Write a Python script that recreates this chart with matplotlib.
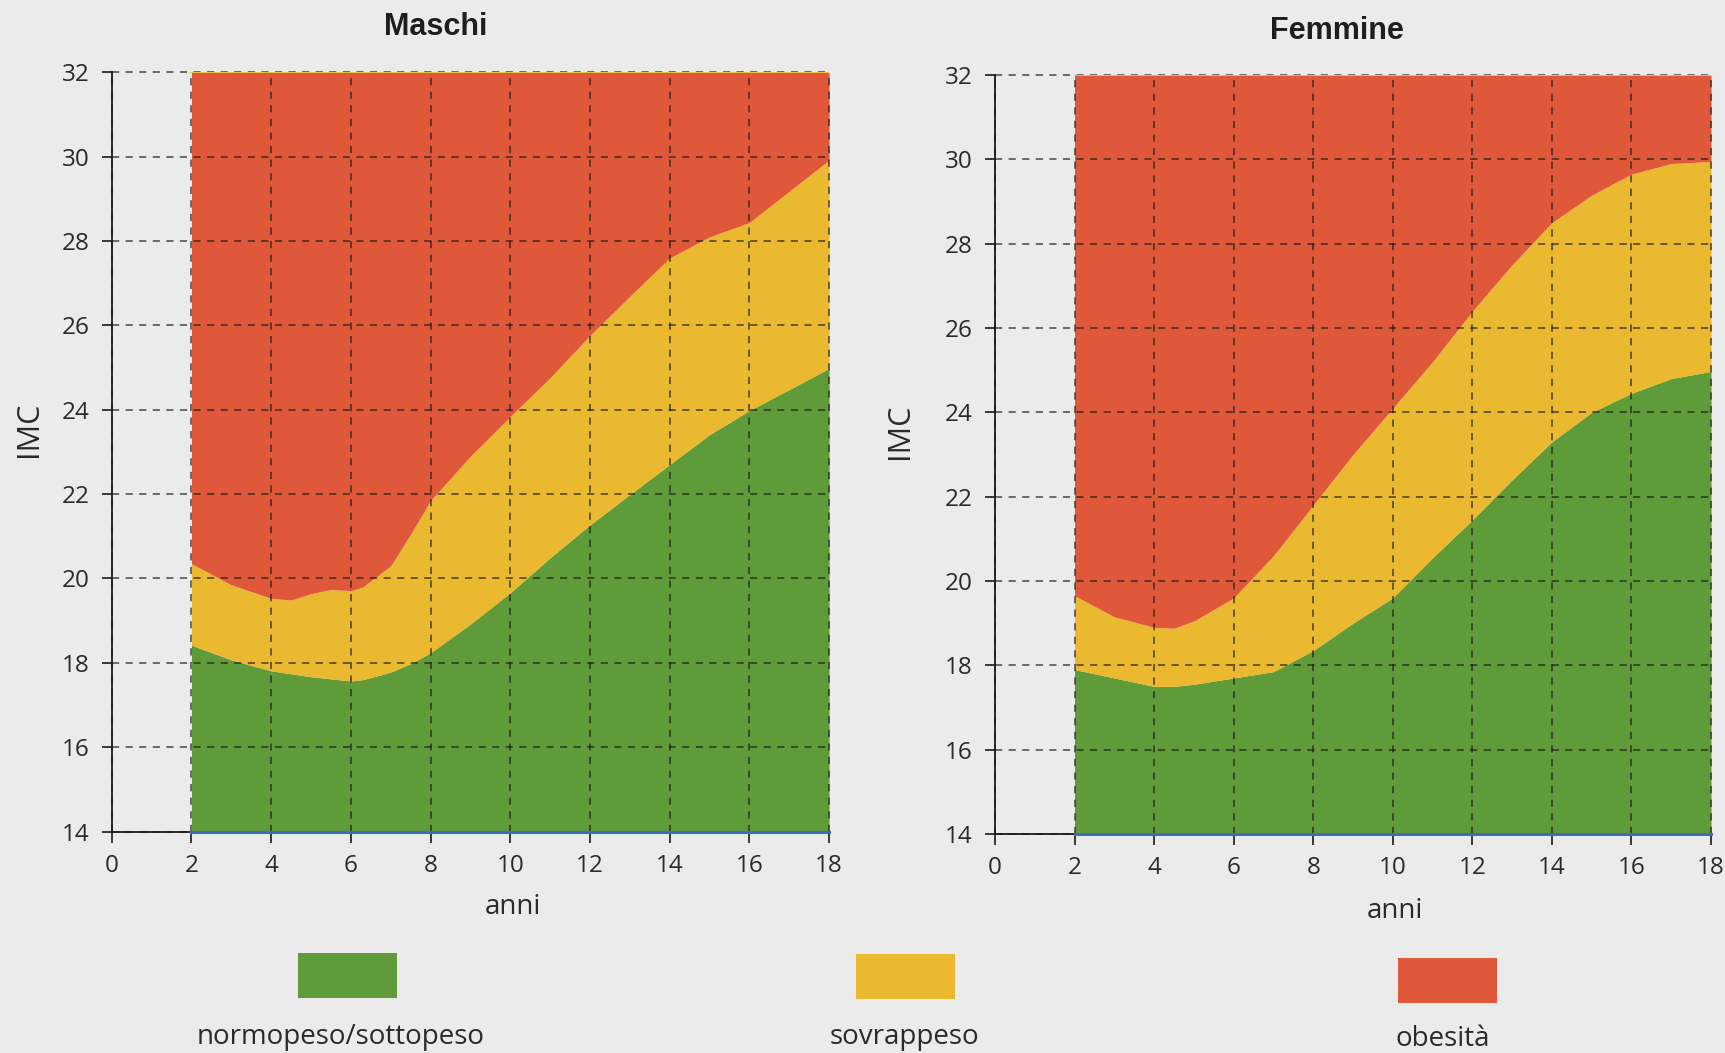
import matplotlib
matplotlib.use("Agg")
import matplotlib.pyplot as plt
from matplotlib.patches import Rectangle

# Età (anni) e limiti IMC
anni_m = [2, 3, 4, 4.5, 5, 5.5, 6, 6.3, 7, 7.5, 8, 9, 10, 11, 12, 13, 14, 15, 16, 17, 18]
normo_m = [18.42, 18.07, 17.81, 17.74, 17.67, 17.62, 17.57, 17.6, 17.78, 17.98, 18.24, 18.92, 19.66, 20.49, 21.27, 21.99, 22.7, 23.41, 23.98, 24.48, 24.98]
sovra_m = [20.35, 19.85, 19.53, 19.49, 19.64, 19.74, 19.71, 19.8, 20.3, 21.05, 21.85, 22.9, 23.84, 24.76, 25.76, 26.69, 27.6, 28.1, 28.44, 29.18, 29.92]

anni_f = [2, 3, 4, 4.5, 5, 6, 7, 8, 9, 10, 11, 12, 13, 14, 15, 16, 17, 18]
normo_f = [17.9, 17.7, 17.5, 17.5, 17.55, 17.7, 17.85, 18.35, 19.0, 19.6, 20.55, 21.45, 22.4, 23.3, 24.0, 24.45, 24.8, 24.97]
sovra_f = [19.65, 19.15, 18.9, 18.88, 19.05, 19.6, 20.6, 21.8, 23.0, 24.1, 25.2, 26.4, 27.5, 28.5, 29.15, 29.65, 29.9, 29.95]

xticks = list(range(0, 19, 2))
yticks = list(range(14, 33, 2))
categorie = ["normopeso/sottopeso", "sovrappeso", "obesità"]
colori = ["#5f9b38", "#ebb930", "#e0583a"]

sfondo = "#ebebeb"
testo = "#2a2a2a"
font_num = ["Open Sans", "DejaVu Sans"]
font_tit = ["Liberation Sans", "DejaVu Sans"]

fig = plt.figure(figsize=(17.25, 10.53), dpi=100, facecolor=sfondo)


def pannello(pos, anni, normo, sovra, pos_anni, pos_imc):
    ax = fig.add_axes(pos)
    ax.set_facecolor("none")
    ax.fill_between(anni, yticks[0], normo, color=colori[0], lw=0)
    ax.fill_between(anni, normo, sovra, color=colori[1], lw=0)
    ax.fill_between(anni, sovra, yticks[-1], color=colori[2], lw=0)
    # linee sottili ai bordi delle aree, come nella stampa
    ax.plot([anni[0], anni[-1]], [yticks[0], yticks[0]], color="#3a6fc0", lw=2.2,
            zorder=5, clip_on=False)
    ax.plot([anni[0], anni[-1]], [yticks[-1], yticks[-1]], color="#e8c640", lw=1.4, zorder=3)

    ax.set_xlim(xticks[0], xticks[-1])
    ax.set_ylim(yticks[0], yticks[-1])
    ax.set_xticks(xticks)
    ax.set_yticks(yticks)
    ax.grid(True, ls=(0, (4.5, 4)), color="#1a1a1a", lw=1.15, alpha=0.75)
    ax.set_axisbelow(False)
    for s in ["top", "right"]:
        ax.spines[s].set_visible(False)
    for s in ["left", "bottom"]:
        ax.spines[s].set_linewidth(1.3)
        ax.spines[s].set_color("#1a1a1a")
        ax.spines[s].set_zorder(4)
    ax.tick_params(axis="y", direction="out", length=7, width=1.2, pad=9,
                   labelsize=17.5, colors="#1a1a1a", labelcolor=testo)
    ax.tick_params(axis="x", direction="out", length=8, width=1.2, pad=8,
                   labelsize=17.5, colors="#1a1a1a", labelcolor=testo)
    for lab in ax.get_xticklabels() + ax.get_yticklabels():
        lab.set_family(font_num)
    xl = ax.set_xlabel("anni", fontsize=20, family=font_num, color=testo)
    xl.set_va("center")
    ax.xaxis.set_label_coords(*pos_anni)
    yl = ax.set_ylabel("IMC", fontsize=22, family=font_num, color=testo)
    yl.set_va("center")
    ax.yaxis.set_label_coords(*pos_imc)
    for g in ax.get_xgridlines() + ax.get_ygridlines():
        g.set_clip_on(False)
    return ax


ax1 = pannello([0.0648, 0.2103, 0.4158, 0.7210], anni_m, normo_m, sovra_m,
               (0.5595, -0.100), (-0.1153, 0.530))
ax2 = pannello([0.5768, 0.2080, 0.4151, 0.7208], anni_f, normo_f, sovra_f,
               (0.5590, -0.101), (-0.1327, 0.531))

fig.text(0.2528, 0.9739, "Maschi", ha="center", va="center", fontsize=22,
         fontweight="bold", family=font_tit, color="#1e1e1e")
fig.text(0.7750, 0.9706, "Femmine", ha="center", va="center", fontsize=22,
         fontweight="bold", family=font_tit, color="#1e1e1e")

# legenda: riquadri colorati con la scritta sotto
leg_x = [0.1728, 0.4962, 0.8104]
leg_y = [0.0522, 0.0513, 0.0475]
lab_x = [0.1977, 0.5241, 0.8365]
lab_y = [0.0150, 0.0150, 0.0135]
for i in range(3):
    fig.add_artist(Rectangle((leg_x[i], leg_y[i]), 0.0574, 0.0427,
                             transform=fig.transFigure, color=colori[i], lw=0))
    fig.text(lab_x[i], lab_y[i], categorie[i], ha="center", va="center",
             fontsize=20, family=font_num, color=testo)

fig.savefig("out.png", dpi=100, facecolor=sfondo)
